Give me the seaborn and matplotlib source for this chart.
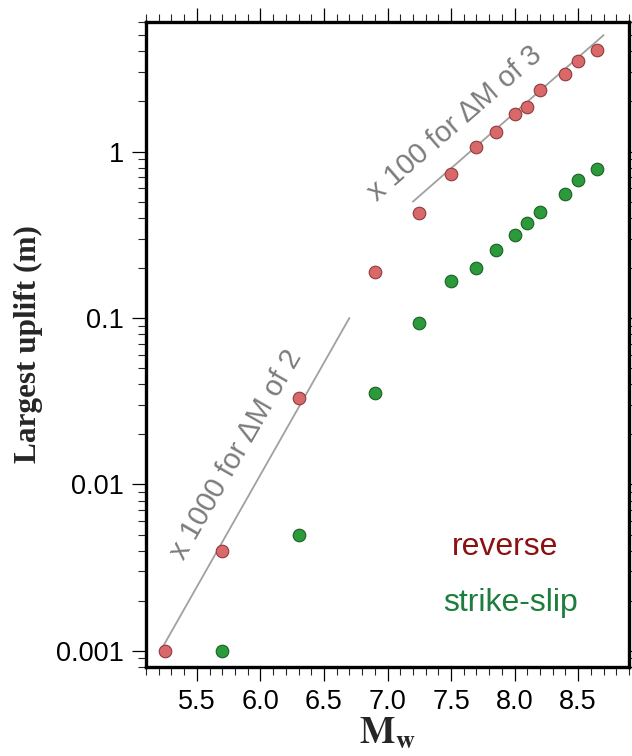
import matplotlib
matplotlib.use("Agg")
import matplotlib.pyplot as plt
import numpy as np
import pandas as pd
import seaborn as sns
from matplotlib.ticker import FixedLocator, FixedFormatter, LogLocator, NullFormatter, MultipleLocator

# Largest uplift versus moment magnitude for two faulting mechanisms
reverse_mw = [5.25, 5.7, 6.3, 6.9, 7.25, 7.5, 7.7, 7.85, 8.0, 8.1, 8.2, 8.4, 8.5, 8.65]
reverse_uplift = [0.001, 0.004, 0.033, 0.19, 0.43, 0.73, 1.07, 1.31, 1.68, 1.86, 2.35, 2.93, 3.52, 4.08]

strike_mw = [5.7, 6.3, 6.9, 7.25, 7.5, 7.7, 7.85, 8.0, 8.1, 8.2, 8.4, 8.5, 8.65]
strike_uplift = [0.001, 0.005, 0.0355, 0.093, 0.166, 0.200, 0.257, 0.316, 0.371, 0.432, 0.557, 0.676, 0.787]

# Scaling guide lines
guide_low_mw = [5.23, 6.7]
guide_low_uplift = [0.00105, 0.1]
guide_high_mw = [7.2, 8.7]
guide_high_uplift = [0.5, 5.0]

x_ticks = [5.5, 6.0, 6.5, 7.0, 7.5, 8.0, 8.5]
x_tick_labels = ["5.5", "6.0", "6.5", "7.0", "7.5", "8.0", "8.5"]
y_ticks = [0.001, 0.01, 0.1, 1]
y_tick_labels = ["0.001", "0.01", "0.1", "1"]

mechanisms = ["reverse", "strike-slip"]
fill_colors = {"reverse": "#d9686b", "strike-slip": "#2b9a3a"}
edge_colors = {"reverse": "#8e3b3d", "strike-slip": "#1c5e25"}
label_colors = {"reverse": "#8b1212", "strike-slip": "#1d7d3c"}

df = pd.DataFrame({
    "Mw": reverse_mw + strike_mw,
    "uplift": reverse_uplift + strike_uplift,
    "mechanism": ["reverse"] * len(reverse_mw) + ["strike-slip"] * len(strike_mw),
})

sns.set_style("ticks")
plt.rcParams["font.family"] = ["Liberation Sans", "DejaVu Sans"]
plt.rcParams["mathtext.fontset"] = "stix"

fig = plt.figure(figsize=(6.32, 7.56), dpi=100)
ax = fig.add_axes([146 / 632, 1 - 667 / 756, 483 / 632, 645 / 756])

ax.plot(guide_low_mw, guide_low_uplift, color="#a0a0a0", lw=1.3, zorder=1)
ax.plot(guide_high_mw, guide_high_uplift, color="#a0a0a0", lw=1.3, zorder=1)

for mech in mechanisms:
    sub = df[df["mechanism"] == mech]
    sns.scatterplot(data=sub, x="Mw", y="uplift", ax=ax, s=82,
                    color=fill_colors[mech], edgecolor=edge_colors[mech],
                    linewidth=0.8, zorder=3, legend=False)

ax.set_yscale("log")
ax.set_xlim(5.1, 8.9)
ax.set_ylim(0.0008, 6.0)

ax.xaxis.set_major_locator(FixedLocator(x_ticks))
ax.xaxis.set_major_formatter(FixedFormatter(x_tick_labels))
ax.xaxis.set_minor_locator(MultipleLocator(0.1))
ax.yaxis.set_major_locator(FixedLocator(y_ticks))
ax.yaxis.set_major_formatter(FixedFormatter(y_tick_labels))
ax.yaxis.set_minor_locator(LogLocator(base=10, subs=np.arange(2, 10)))
ax.yaxis.set_minor_formatter(NullFormatter())

for side in ["left", "right", "top", "bottom"]:
    ax.spines[side].set_linewidth(2.4)
    ax.spines[side].set_color("black")

ax.tick_params(which="major", direction="out", length=10, width=0.9,
               top=True, right=True, labelsize=19.5, pad=6, colors="black")
ax.tick_params(which="minor", direction="out", length=5.5, width=0.8,
               top=True, right=True)

ax.set_xlabel(r"$\mathbf{M_w}$", fontsize=27, labelpad=0)
ax.set_ylabel("Largest uplift (m)", fontsize=22.5, fontweight="bold",
              family=["Liberation Serif", "DejaVu Serif"], labelpad=9)

ax.text(5.81, 0.0151, "x 1000 for \u0394M of 2", rotation=60, color="#7c7c7c",
        fontsize=21, ha="center", va="center", rotation_mode="anchor")
ax.text(7.53, 1.47, "x 100 for \u0394M of 3", rotation=41, color="#7c7c7c",
        fontsize=21, ha="center", va="center", rotation_mode="anchor")

ax.text(0.743, 0.186, "reverse", transform=ax.transAxes, color=label_colors["reverse"],
        fontsize=23, ha="center", va="center")
ax.text(0.754, 0.099, "strike-slip", transform=ax.transAxes, color=label_colors["strike-slip"],
        fontsize=23, ha="center", va="center")

fig.savefig("out.png", dpi=100)
